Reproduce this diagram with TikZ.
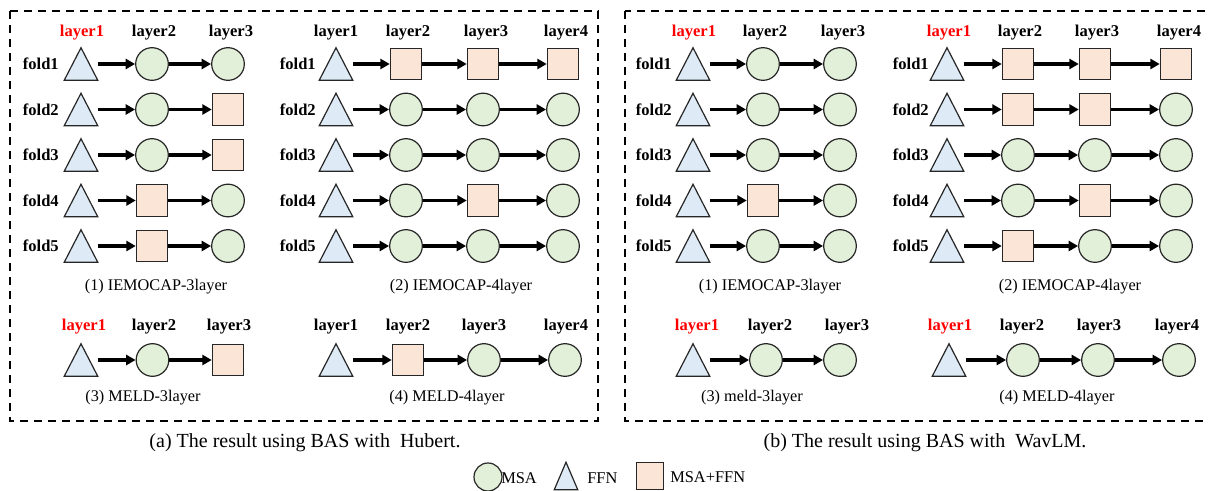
\documentclass[tikz,border=0pt]{standalone}
\usepackage{fontspec}
\setmainfont{Liberation Serif}
\usetikzlibrary{arrows.meta}

\definecolor{msa}{HTML}{E2F0D9}
\definecolor{ffn}{HTML}{DEEBF7}
\definecolor{both}{HTML}{FBE5D6}
\definecolor{edgecol}{HTML}{262626}

\tikzset{
  shp/.style={draw=edgecol, line width=0.9pt, inner sep=0pt},
  circ/.style={shp, circle, fill=msa, minimum size=24.5pt},
  sq/.style={shp, rectangle, fill=both, minimum size=23.5pt},
  tribox/.style={rectangle, inner sep=0pt, minimum width=24.75pt, minimum height=24pt},
  trishape/.style={draw=edgecol, line width=0.9pt, fill=ffn},
  kind/.style={#1},
  arr/.style={line width=2.5pt, -{Triangle[length=7pt,width=7.5pt]}},
  hdr/.style={font=\bfseries\fontsize{12.4}{14}\selectfont, inner sep=0pt},
  redhdr/.style={hdr, text=red},
  fold/.style={hdr, anchor=east},
  subcap/.style={font=\fontsize{12.2}{14}\selectfont, inner sep=0pt},
  bigcap/.style={font=\fontsize{15}{18}\selectfont, inner sep=0pt},
  legtext/.style={font=\fontsize{12.3}{14}\selectfont, inner sep=0pt, anchor=west},
  dashframe/.style={line width=1.5pt, dash pattern=on 6pt off 4.5pt},
}

% one chain of layers: #1 name prefix, #2 y, #3 x of the FFN block,
% #4 list of kind/x for the following blocks
\newcommand\layerrow[4]{%
  \node[tribox] (#1-1) at (#3,#2) {};
  \filldraw[trishape] (#1-1.south west) -- (#1-1.south east) -- (#1-1.north) -- cycle;
  \foreach \s/\x [count=\i from 2] in {#4} {
    \pgfmathtruncatemacro\prev{\i-1}
    \node[kind/.expand once=\s] (#1-\i) at (\x,#2) {};
    \draw[arr] (#1-\prev) -- (#1-\i);
  }%
}

\begin{document}
\begin{tikzpicture}[x=0.75pt, y=-0.75pt]
\useasboundingbox (0,0) rectangle (1208,490);

% frames
\draw[dashframe] (10,11) rectangle (598,421);
\draw[dashframe] (625,11) rectangle (1212,421);

% ---------------- (a) Hubert ----------------
% (1) IEMOCAP-3layer
\node[redhdr] (a1h1) at (82,33) {layer1};
\node[hdr] (a1h2) at (154,33) {layer2};
\node[hdr] (a1h3) at (231,33) {layer3};
\node[fold] (a1f1) at (59,64) {fold1};
\node[fold] (a1f2) at (59,109.5) {fold2};
\node[fold] (a1f3) at (59,155) {fold3};
\node[fold] (a1f4) at (59,200.5) {fold4};
\node[fold] (a1f5) at (59,246) {fold5};
\layerrow{a1r1}{64}{81}{circ/152, circ/228}
\layerrow{a1r2}{109.5}{81}{circ/152, sq/228}
\layerrow{a1r3}{155}{81}{circ/152, sq/228}
\layerrow{a1r4}{200.5}{81}{sq/152, circ/228}
\layerrow{a1r5}{246}{81}{sq/152, circ/228}
\node[subcap] (a1c) at (156,287) {(1) IEMOCAP-3layer};

% (2) IEMOCAP-4layer
\node[hdr] (a2h1) at (336,33) {layer1};
\node[hdr] (a2h2) at (408,33) {layer2};
\node[hdr] (a2h3) at (486,33) {layer3};
\node[fold] (a2f1) at (316,64) {fold1};
\node[hdr] (a2h4) at (566,33) {layer4};
\node[fold] (a2f2) at (316,109.5) {fold2};
\node[fold] (a2f3) at (316,155) {fold3};
\node[fold] (a2f4) at (316,200.5) {fold4};
\node[fold] (a2f5) at (316,246) {fold5};
\layerrow{a2r1}{64}{336}{sq/406, sq/483, sq/563}
\layerrow{a2r2}{109.5}{336}{circ/406, circ/483, circ/563}
\layerrow{a2r3}{155}{336}{circ/406, circ/483, circ/563}
\layerrow{a2r4}{200.5}{336}{circ/406, sq/483, circ/563}
\layerrow{a2r5}{246}{336}{circ/406, circ/483, circ/563}
\node[subcap] (a2c) at (461,287) {(2) IEMOCAP-4layer};

% (3) MELD-3layer
\node[redhdr] (a3h1) at (84,327) {layer1};
\node[hdr] (a3h2) at (154,327) {layer2};
\node[hdr] (a3h3) at (229,327) {layer3};
\layerrow{a3r}{360}{81}{circ/152.5, sq/228}
\node[subcap] (a3c) at (143,398) {(3) MELD-3layer};

% (4) MELD-4layer
\node[hdr] (a4h1) at (336,327) {layer1};
\node[hdr] (a4h2) at (408,327) {layer2};
\node[hdr] (a4h3) at (484,327) {layer3};
\node[hdr] (a4h4) at (566,327) {layer4};
\layerrow{a4r}{360}{336}{sq/408, circ/484, circ/565}
\node[subcap] (a4c) at (447,398) {(4) MELD-4layer};

\node[bigcap] (acap) at (305,443) {(a) The result using BAS with\ \ Hubert.};

% ---------------- (b) WavLM ----------------
% (1) IEMOCAP-3layer
\node[redhdr] (b1h1) at (694,33) {layer1};
\node[hdr] (b1h2) at (765,33) {layer2};
\node[hdr] (b1h3) at (843,33) {layer3};
\node[fold] (b1f1) at (672,64) {fold1};
\node[fold] (b1f2) at (672,109.5) {fold2};
\node[fold] (b1f3) at (672,155) {fold3};
\node[fold] (b1f4) at (672,200.5) {fold4};
\node[fold] (b1f5) at (672,246) {fold5};
\layerrow{b1r1}{64}{693}{circ/763, circ/840}
\layerrow{b1r2}{109.5}{693}{circ/763, circ/840}
\layerrow{b1r3}{155}{693}{circ/763, circ/840}
\layerrow{b1r4}{200.5}{693}{sq/763, circ/840}
\layerrow{b1r5}{246}{693}{circ/763, circ/840}
\node[subcap] (b1c) at (770,287) {(1) IEMOCAP-3layer};

% (2) IEMOCAP-4layer
\node[redhdr] (b2h1) at (949,33) {layer1};
\node[hdr] (b2h2) at (1020,33) {layer2};
\node[hdr] (b2h3) at (1097,33) {layer3};
\node[hdr] (b2h4) at (1179,33) {layer4};
\node[fold] (b2f1) at (929,64) {fold1};
\node[fold] (b2f2) at (929,109.5) {fold2};
\node[fold] (b2f3) at (929,155) {fold3};
\node[fold] (b2f4) at (929,200.5) {fold4};
\node[fold] (b2f5) at (929,246) {fold5};
\layerrow{b2r1}{64}{947}{sq/1018, sq/1095, sq/1176}
\layerrow{b2r2}{109.5}{947}{sq/1018, sq/1095, circ/1176}
\layerrow{b2r3}{155}{947}{circ/1018, circ/1095, circ/1176}
\layerrow{b2r4}{200.5}{947}{circ/1018, sq/1095, circ/1176}
\layerrow{b2r5}{246}{947}{sq/1018, circ/1095, circ/1176}
\node[subcap] (b2c) at (1070,287) {(2) IEMOCAP-4layer};

% (3) meld-3layer
\node[redhdr] (b3h1) at (697,327) {layer1};
\node[hdr] (b3h2) at (770,327) {layer2};
\node[hdr] (b3h3) at (847,327) {layer3};
\layerrow{b3r}{360}{693}{circ/766, circ/840}
\node[subcap] (b3c) at (752,398) {(3) meld-3layer};

% (4) MELD-4layer
\node[redhdr] (b4h1) at (950,327) {layer1};
\node[hdr] (b4h2) at (1022,327) {layer2};
\node[hdr] (b4h3) at (1099,327) {layer3};
\node[hdr] (b4h4) at (1177,327) {layer4};
\layerrow{b4r}{360}{949}{circ/1023, circ/1098, circ/1179}
\node[subcap] (b4c) at (1057,398) {(4) MELD-4layer};

\node[bigcap] (bcap) at (925,443) {(b) The result using BAS with\ \ WavLM.};

% ---------------- legend ----------------
\node[circ, minimum size=21pt] (lgc) at (488,477) {};
\node[legtext] (lgct) at (501,478) {MSA};
\node[tribox, minimum width=17.25pt, minimum height=20.25pt] (lgt) at (566,476) {};
\filldraw[trishape] (lgt.south west) -- (lgt.south east) -- (lgt.north) -- cycle;
\node[legtext] (lgtt) at (587,478) {FFN};
\node[sq, minimum size=20.25pt] (lgs) at (650,476) {};
\node[legtext] (lgst) at (670,477) {MSA+FFN};
\end{tikzpicture}
\end{document}
